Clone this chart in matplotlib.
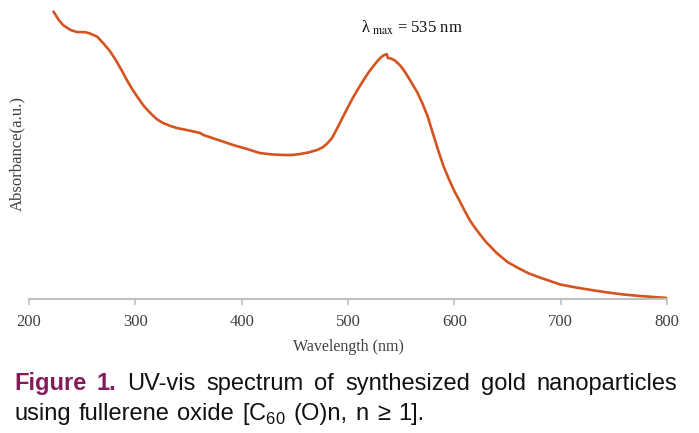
import numpy as np
import matplotlib.pyplot as plt

# datos (unidades arbitrarias)
wavelength = [223, 228, 232, 239, 245, 253, 257, 264, 270, 276,
              281, 287, 292, 297, 302, 308, 314, 320, 326, 333,
              339, 350, 361, 364, 378, 392, 405, 417, 428, 439,
              447, 455, 463, 471, 476, 480, 485, 490, 495, 500,
              505, 510, 515, 520, 525, 529, 532, 535, 536.5, 537.5,
              540, 544, 549, 553, 557, 561, 565, 570, 575, 580,
              585, 590, 595, 600, 605, 610, 615, 620, 625, 630,
              640, 650, 660, 670, 680, 690, 700, 715, 730, 745,
              760, 775, 790, 800]
absorbance = [1.437, 1.395, 1.37, 1.345, 1.335, 1.334, 1.328, 1.312, 1.278, 1.24,
              1.2, 1.145, 1.095, 1.05, 1.01, 0.965, 0.93, 0.9, 0.88, 0.865,
              0.855, 0.843, 0.83, 0.82, 0.795, 0.77, 0.75, 0.73, 0.723, 0.72,
              0.72, 0.725, 0.733, 0.745, 0.758, 0.775, 0.805, 0.855, 0.908, 0.96,
              1.01, 1.055, 1.098, 1.138, 1.172, 1.198, 1.213, 1.222, 1.224, 1.205,
              1.203, 1.193, 1.168, 1.14, 1.106, 1.07, 1.035, 0.978, 0.912, 0.825,
              0.74, 0.662, 0.598, 0.54, 0.49, 0.438, 0.39, 0.352, 0.317, 0.284,
              0.229, 0.185, 0.155, 0.128, 0.108, 0.09, 0.072, 0.057, 0.044, 0.032,
              0.022, 0.015, 0.009, 0.005]
x_ticks = [200, 300, 400, 500, 600, 700, 800]

line1_words = ["Figure", "1.", "UV-vis", "spectrum", "of", "synthesized", "gold", "nanoparticles"]
line2_words = ["using", "fullerene", "oxide", r"[C$_{\mathrm{60}}$", "(O)n,", "n", "\u2265", "1]."]

serif = ['Liberation Serif', 'DejaVu Serif']
sans = ['Liberation Sans Narrow', 'Liberation Sans', 'DejaVu Sans']
purple = '#861b5b'

plt.rcParams['mathtext.fontset'] = 'custom'
plt.rcParams['mathtext.rm'] = 'Liberation Sans'

fig = plt.figure(figsize=(6.99, 4.33), dpi=100)
ax = fig.add_axes([29/699, 1-299/433, (667-29)/699, (299-8)/433])

ax.plot(wavelength, absorbance, color='#d4531f', lw=1.9,
        solid_capstyle='round', solid_joinstyle='round')

ax.set_xlim(200, 800)
ax.set_ylim(0, 1.455)
ax.set_xticks(x_ticks)
ax.set_yticks([])
for s in ['left', 'top', 'right']:
    ax.spines[s].set_visible(False)
ax.spines['bottom'].set_color('#c0c0c0')
ax.spines['bottom'].set_linewidth(1.5)
ax.tick_params(axis='x', direction='out', length=4, width=1.2, color='#c0c0c0',
               labelcolor='#404040', pad=7)
for lab in ax.get_xticklabels():
    lab.set_family(serif)
    lab.set_fontsize(12)

ax.set_xlabel('Wavelength (nm)', family=serif, fontsize=11.5, color='#404040', labelpad=6)
ax.set_ylabel('Absorbance(a.u.)', family=serif, fontsize=12, color='#404040', labelpad=3)

ax.text(512, 1.355, r'λ$_{\ \mathrm{max}}$ = 535 nm', family=serif, fontsize=12,
        math_fontfamily='stix', ha='left', va='center', color='#111111')

# pie de figura justificado a mano
fig.canvas.draw()
renderer = fig.canvas.get_renderer()

def place_line(words, y, x0, x1=None, gap=None):
    texts = []
    for i, w in enumerate(words):
        bold = words is line1_words and i < 2
        t = fig.text(0, y, w, family=sans, fontsize=17, va='baseline', ha='left',
                     color=purple if bold else '#111111',
                     weight='bold' if bold else 'normal')
        texts.append(t)
    widths = [t.get_window_extent(renderer).width for t in texts]
    if gap is None:
        gap = ((x1 - x0) - sum(widths)) / (len(words) - 1)
    x = x0
    for t, w in zip(texts, widths):
        t.set_x(x / 699)
        x += w + gap

place_line(line1_words, 1 - 390/433, 14, 677)
place_line(line2_words, 1 - 420/433, 14, gap=8)

fig.savefig('out.png', dpi=100)
